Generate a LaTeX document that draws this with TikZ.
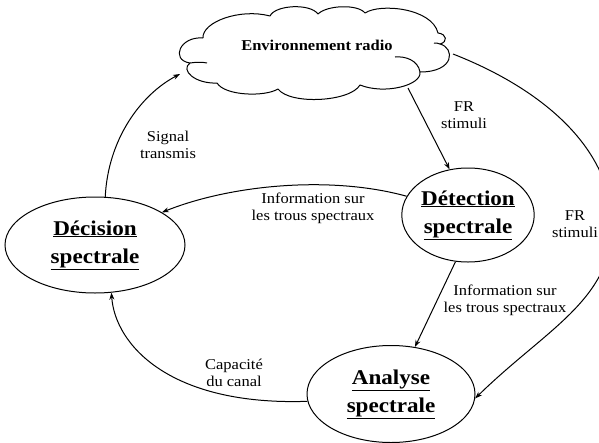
\documentclass[tikz,border=0pt]{standalone}
\usepackage{fontspec}
\setmainfont{Liberation Serif}[FakeStretch=1.1]
\usetikzlibrary{shapes.geometric,arrows.meta}

\begin{document}
\begin{tikzpicture}[x=1pt,y=-1pt,
  line width=1pt,
  arr/.style={-{Stealth[length=7pt,width=5pt]}},
  state/.style={ellipse, draw, inner sep=0pt, align=center,
    font=\fontsize{21}{28}\selectfont\bfseries},
  lbl/.style={align=center, font=\fontsize{15}{17}\selectfont},
  puff/.style={line width=1pt, line join=round}
]
\clip (0,0) rectangle (599,442);

% radio environment: a hand-drawn cloud of puffs
\draw[puff] (203,38)
  .. controls (202,22) and (240,8) .. (270,16)
  .. controls (275,5) and (310,3) .. (318,14)
  .. controls (327,5) and (358,4) .. (365,13)
  .. controls (380,3) and (432,8) .. (438,33)
  .. controls (447,34) and (448,42) .. (440,44)
  .. controls (455,48) and (455,72) .. (420,72)
  .. controls (422,85) and (385,95) .. (360,85)
  .. controls (350,102) and (290,105) .. (278,89)
  .. controls (265,97) and (225,96) .. (217,83)
  .. controls (195,84) and (180,70) .. (190,63)
  .. controls (170,60) and (180,36) .. (203,38);
\draw[puff] (190,63) .. controls (197,62) and (202,62) .. (207,63);
\draw[puff] (420,72) .. controls (418,60) and (405,56) .. (395,57);
\draw[puff] (440,44) .. controls (438,43) and (436,43) .. (434,43);
\node[font=\fontsize{15}{17}\selectfont\bfseries] (env) at (317,45) {Environnement radio};
\coordinate (envW) at (180,74);
\coordinate (envS) at (408,88);
\coordinate (envE) at (453,54);

% the three cognitive-cycle stages
\node[state, minimum width=180pt, minimum height=96pt] (dec) at (95,245)
  {\underline{Décision}\\\underline{spectrale}};
\node[state, minimum width=127pt, minimum height=94pt] (det) at (468,215)
  {\underline{Détection}\\\underline{spectrale}};
\node[state, minimum width=168pt, minimum height=97pt] (ana) at (391,394)
  {\underline{Analyse}\\\underline{spectrale}};

% connectors
\draw[arr] (envS) -- (det.112);
\draw[arr] (envE) .. controls (545,90) and (612,150) .. (612,225)
  .. controls (612,300) and (545,330) .. (ana.-3);
\draw[arr] (det.163) .. controls (330,175) and (230,185) .. (dec.26);
\draw[arr] (det.255) -- (ana.63);
\draw[arr] (ana.185) .. controls (170,406) and (115,345) .. (dec.-71);
\draw[arr] (dec.78) .. controls (108,140) and (140,95) .. (envW);

% connector labels
\node[lbl] (l1) at (464,115) {FR\\stimuli};
\node[lbl] (l2) at (575,224) {FR\\stimuli};
\node[lbl] (l3) at (313,208) {Information sur\\les trous spectraux};
\node[lbl] (l4) at (505,300) {Information sur\\les trous spectraux};
\node[lbl] (l5) at (234,373) {Capacité\\du canal};
\node[lbl] (l6) at (168,145) {Signal\\transmis};
\end{tikzpicture}
\end{document}
